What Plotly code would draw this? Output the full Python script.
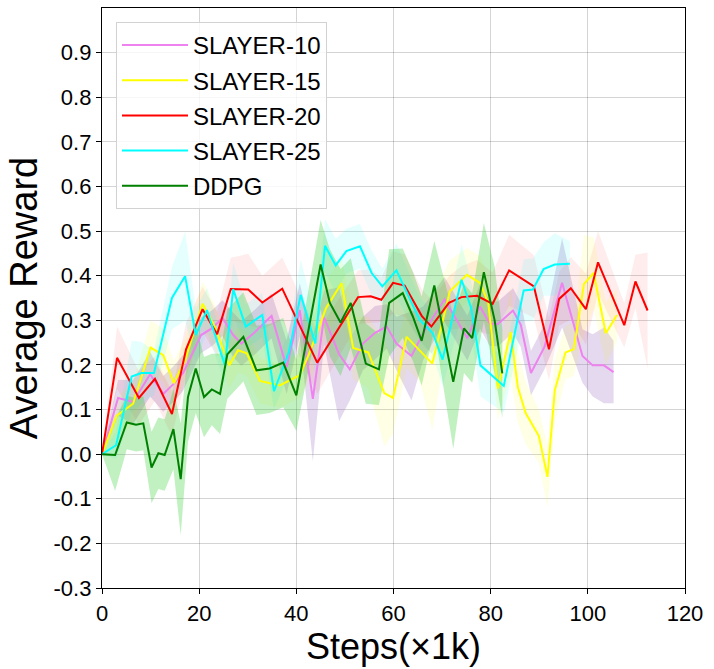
import plotly.graph_objects as go

# SLAYER-10
s10_x = [0, 3.3, 6.4, 9.9, 12.6, 14.8, 16.7, 20.4, 22.6, 24.8, 27.0, 28.7, 31.5, 34.9, 38.0, 40.7,
         43.4, 45.7, 48.8, 51.0, 53.7, 56.2, 58.6, 60.6, 63.7, 66.1, 70.5, 72.6, 75.2, 77.8, 79.8,
         81.5, 84.6, 86.2, 88.3, 91.1, 94.7, 98.9, 101.0, 103.3, 105.3]
s10_y = [0.0, 0.126, 0.117, 0.179, 0.135, 0.158, 0.182, 0.267, 0.282, 0.305, 0.267, 0.248, 0.274, 0.31,
         0.195, 0.323, 0.124, 0.307, 0.224, 0.19, 0.248, 0.272, 0.286, 0.248, 0.22, 0.271, 0.347, 0.308,
         0.26, 0.331, 0.293, 0.292, 0.322, 0.29, 0.182, 0.241, 0.384, 0.22, 0.199, 0.199, 0.184]
s10_sd = [0.0, 0.04, 0.05, 0.05, 0.04, 0.04, 0.04, 0.04, 0.04, 0.04, 0.05, 0.05, 0.05, 0.05, 0.06, 0.06,
          0.14, 0.06, 0.15, 0.07, 0.06, 0.06, 0.05, 0.06, 0.1, 0.06, 0.05, 0.05, 0.05, 0.05, 0.05,
          0.05, 0.05, 0.05, 0.05, 0.05, 0.1, 0.06, 0.07, 0.085, 0.07]

# SLAYER-15
s15_x = [0, 3.0, 6.4, 10.0, 12.6, 14.8, 17.1, 20.7, 23.2, 26.2, 28.0, 29.8, 32.5, 36.6, 40.7, 42.8,
         46.1, 49.3, 51.7, 54.8, 58.1, 59.9, 62.7, 65.4, 68.0, 71.6, 75.1, 77.8, 79.5, 81.5, 84.1,
         85.6, 87.2, 89.9, 91.7, 93.2, 95.4, 97.1, 99.2, 101.2, 103.7, 106.0]
s15_y = [0.0, 0.086, 0.113, 0.239, 0.222, 0.159, 0.211, 0.337, 0.286, 0.199, 0.233, 0.226, 0.164, 0.154,
         0.177, 0.229, 0.327, 0.383, 0.238, 0.228, 0.137, 0.126, 0.263, 0.233, 0.203, 0.365, 0.402, 0.384,
         0.339, 0.147, 0.274, 0.15, 0.092, 0.041, -0.051, 0.143, 0.228, 0.235, 0.381, 0.406, 0.271, 0.312]
s15_sd = [0.0, 0.04, 0.05, 0.06, 0.06, 0.05, 0.05, 0.05, 0.05, 0.05, 0.05, 0.05, 0.05, 0.05, 0.05, 0.06,
          0.06, 0.06, 0.07, 0.08, 0.12, 0.08, 0.07, 0.07, 0.15, 0.07, 0.06, 0.06, 0.06, 0.07, 0.1,
          0.08, 0.07, 0.06, 0.07, 0.07, 0.06, 0.06, 0.11, 0.08, 0.07, 0.06]

# SLAYER-20
s20_x = [0, 3.1, 7.6, 10.9, 14.4, 17.3, 20.7, 23.7, 26.5, 30.1, 33.0, 37.1, 44.3, 52.7, 55.3, 57.5,
         59.9, 62.3, 65.8, 67.8, 71.4, 74.0, 77.2, 80.4, 83.8, 88.9, 92.0, 94.1, 96.5, 99.6, 102.1,
         107.5, 109.8, 112.3]
s20_y = [0.0, 0.216, 0.126, 0.169, 0.09, 0.235, 0.325, 0.269, 0.37, 0.369, 0.34, 0.371, 0.205, 0.352,
         0.354, 0.346, 0.384, 0.378, 0.31, 0.286, 0.339, 0.352, 0.355, 0.337, 0.412, 0.376, 0.235, 0.348,
         0.372, 0.325, 0.43, 0.289, 0.387, 0.322]
s20_sd = [0.0, 0.07, 0.06, 0.05, 0.05, 0.06, 0.05, 0.05, 0.07, 0.08, 0.06, 0.07, 0.07, 0.06, 0.06, 0.05,
          0.07, 0.07, 0.06, 0.06, 0.06, 0.07, 0.08, 0.07, 0.08, 0.07, 0.07, 0.06, 0.07, 0.08, 0.07,
          0.05, 0.06, 0.13]

# SLAYER-25
s25_x = [0, 2.9, 6.1, 8.1, 10.7, 14.4, 17.1, 19.3, 21.6, 25.3, 27.0, 29.6, 33.0, 35.4, 38.5, 40.9,
         43.9, 45.9, 48.1, 50.3, 53.1, 55.5, 57.7, 60.6, 65.4, 68.1, 70.1, 74.0, 76.0, 77.9, 82.7,
         86.8, 88.7, 90.9, 93.2, 96.3]
s25_y = [0.0, 0.02, 0.174, 0.182, 0.182, 0.35, 0.399, 0.267, 0.323, 0.199, 0.37, 0.286, 0.312, 0.141,
         0.23, 0.357, 0.248, 0.467, 0.423, 0.455, 0.466, 0.406, 0.376, 0.412, 0.301, 0.271, 0.212, 0.391,
         0.327, 0.199, 0.153, 0.367, 0.369, 0.415, 0.425, 0.427]
s25_sd = [0.0, 0.03, 0.08, 0.07, 0.05, 0.07, 0.1, 0.06, 0.05, 0.04, 0.06, 0.05, 0.05, 0.04, 0.05, 0.08,
          0.06, 0.06, 0.06, 0.05, 0.05, 0.05, 0.04, 0.06, 0.05, 0.05, 0.06, 0.08, 0.06, 0.07, 0.06,
          0.07, 0.07, 0.06, 0.07, 0.05]

# DDPG
ddpg_x = [0, 2.7, 5.1, 7.0, 8.5, 10.2, 11.6, 12.9, 14.7, 16.2, 17.7, 19.3, 21.0, 22.6, 24.3, 25.8,
          29.1, 31.8, 34.5, 37.3, 40.0, 45.0, 46.9, 49.1, 51.2, 54.3, 57.0, 59.1, 61.9, 64.0, 65.8,
          68.4, 72.3, 74.5, 76.2, 78.6, 80.8, 82.4]
ddpg_y = [0.0, -0.002, 0.071, 0.066, 0.069, -0.03, 0.002, -0.002, 0.056, -0.056, 0.128, 0.192, 0.128,
          0.145, 0.135, 0.224, 0.263, 0.188, 0.192, 0.205, 0.132, 0.425, 0.339, 0.295, 0.339, 0.203,
          0.19, 0.339, 0.361, 0.308, 0.254, 0.378, 0.162, 0.282, 0.26, 0.408, 0.301, 0.181]
ddpg_sd = [0.0, 0.08, 0.06, 0.06, 0.06, 0.08, 0.08, 0.08, 0.09, 0.125, 0.1, 0.1, 0.09, 0.08, 0.09, 0.1,
           0.1, 0.1, 0.1, 0.1, 0.08, 0.1, 0.12, 0.12, 0.1, 0.09, 0.08, 0.12, 0.1, 0.1, 0.1,
           0.1, 0.15, 0.1, 0.1, 0.11, 0.12, 0.1]

names = ['SLAYER-10', 'SLAYER-15', 'SLAYER-20', 'SLAYER-25', 'DDPG']
line_colors = ['violet', 'yellow', 'red', 'cyan', 'green']
band_colors = ['rgba(148,103,189,0.25)', 'rgba(255,255,0,0.1)', 'rgba(255,0,0,0.07)',
               'rgba(0,255,255,0.1)', 'rgba(50,205,50,0.3)']

y_ticks = [-0.3, -0.2, -0.1, 0.0, 0.1, 0.2, 0.3, 0.4, 0.5, 0.6, 0.7, 0.8, 0.9]
y_labels = ['-0.3', '-0.2', '-0.1', '0.0', '0.1', '0.2', '0.3', '0.4', '0.5', '0.6', '0.7', '0.8', '0.9']
x_ticks = [0, 20, 40, 60, 80, 100, 120]

series = [(s10_x, s10_y, s10_sd), (s15_x, s15_y, s15_sd), (s20_x, s20_y, s20_sd),
          (s25_x, s25_y, s25_sd), (ddpg_x, ddpg_y, ddpg_sd)]

fig = go.Figure()

# shaded bands first
for (xs, ys, sd), col in zip(series, band_colors):
    upper = [y + s for y, s in zip(ys, sd)]
    lower = [y - s for y, s in zip(ys, sd)]
    fig.add_trace(go.Scatter(x=xs + xs[::-1], y=upper + lower[::-1], fill='toself',
                             fillcolor=col, line=dict(width=0), mode='lines',
                             hoverinfo='skip', showlegend=False))

# mean lines
for (xs, ys, sd), name, col in zip(series, names, line_colors):
    fig.add_trace(go.Scatter(x=xs, y=ys, mode='lines', name=name, legendgroup=name,
                             line=dict(color=col, width=2)))

font = 'Liberation Sans, Arial, sans-serif'
axis_common = dict(showline=True, linecolor='black', linewidth=1.3, mirror=True,
                   ticks='outside', ticklen=5, tickcolor='black',
                   showgrid=True, gridcolor='rgba(0,0,0,0.17)', gridwidth=1,
                   zeroline=False, tickfont=dict(size=22, color='black', family=font))

fig.update_xaxes(range=[0, 120], tickvals=x_ticks, **axis_common)
fig.update_yaxes(range=[-0.3, 1.0], tickvals=y_ticks, ticktext=y_labels,
                 title=dict(text='Average Reward', font=dict(size=38, color='black', family=font), standoff=4),
                 **axis_common)

# x title as an annotation so it can sit closer to the tick labels
fig.add_annotation(text='Steps(×1k)', xref='paper', yref='paper', x=0.5, y=-0.101,
                   xanchor='center', yanchor='middle', showarrow=False,
                   font=dict(size=36, color='black', family=font))

fig.update_layout(
    width=714, height=669,
    margin=dict(l=102, r=29, t=8, b=81),
    plot_bgcolor='white', paper_bgcolor='white',
    font=dict(family=font, color='black'),
    legend=dict(x=0.024, y=0.976, xanchor='left', yanchor='top',
                font=dict(size=24, color='black', family=font),
                bgcolor='rgba(255,255,255,0.8)', bordercolor='rgb(210,210,210)', borderwidth=1,
                tracegroupgap=1, itemwidth=66),
)

# drop the default page margin so the figure sits at the top-left corner
fig.write_html("out.html", config={'displayModeBar': False},
               post_script="document.body.style.margin='0';")
